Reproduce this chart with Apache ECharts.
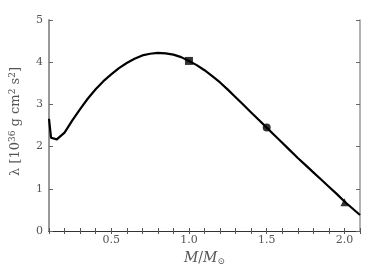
<!DOCTYPE html>
<html><head><meta charset="utf-8">
<script src="https://cdn.jsdelivr.net/npm/echarts@6/dist/echarts.min.js"></script>
<style>html,body{margin:0;padding:0;background:#fff}#c{width:374px;height:280px}</style>
</head><body><div id="c"></div>
<script>
var massX = [0.10,0.113,0.15,0.20,0.25,0.30,0.35,0.40,0.45,0.50,0.55,0.60,0.65,0.70,0.75,0.80,0.85,0.90,0.95,1.00,1.05,1.10,1.15,1.20,1.25,1.30,1.35,1.40,1.45,1.50,1.55,1.60,1.65,1.70,1.75,1.80,1.85,1.90,1.95,2.00,2.05,2.10];
var lambdaY = [2.66,2.21,2.17,2.33,2.62,2.89,3.14,3.36,3.55,3.71,3.86,3.98,4.08,4.16,4.20,4.22,4.21,4.18,4.12,4.03,3.93,3.81,3.67,3.52,3.35,3.17,2.99,2.81,2.63,2.45,2.27,2.09,1.91,1.73,1.56,1.39,1.22,1.05,0.88,0.70,0.54,0.38];
var squarePt = [1.0, 4.03];
var circlePt = [1.5, 2.45];
var trianglePt = [2.0, 0.68];
var xTickLabels = ['0.5','1.0','1.5','2.0'];
var yTickLabels = ['0','1','2','3','4','5'];

var font = "'DejaVu Serif', 'Liberation Serif', serif";
var txt = '#555';
var chart = echarts.init(document.getElementById('c'));
var curve = massX.map(function(x,i){return [x, lambdaY[i]];});
function xLab(v){
  var s = (Math.round(v*10)/10).toFixed(1);
  return xTickLabels.indexOf(s) >= 0 ? s : '';
}
chart.setOption({
  animation:false,
  grid:{left:43,right:14,top:20,bottom:49},
  xAxis:[{
    type:'value',min:0.1,max:2.1,interval:0.1,
    axisLine:{show:true,lineStyle:{color:'#333',width:1}},
    axisTick:{show:true,inside:true,length:3,lineStyle:{color:'#555'}},
    axisLabel:{formatter:xLab,color:txt,fontFamily:font,fontSize:11,margin:4,showMinLabel:true,showMaxLabel:true},
    splitLine:{show:false},
    name:'{i|M}{n|/}{i|M}{s|⊙}',nameLocation:'middle',nameGap:17,
    nameTextStyle:{color:txt,fontFamily:font,fontSize:14,rich:{i:{fontStyle:'italic',fontFamily:font,fontSize:14,color:txt},n:{fontFamily:font,fontSize:14,color:txt},s:{fontFamily:font,fontSize:9,color:txt,verticalAlign:'bottom',padding:[8,0,0,0]}}}
  },{
    type:'value',position:'top',min:0.1,max:2.1,interval:0.1,
    axisLine:{show:true,lineStyle:{color:'#333',width:1}},
    axisTick:{show:true,inside:true,length:3,lineStyle:{color:'#555'}},
    axisLabel:{show:false},splitLine:{show:false}
  }],
  yAxis:[{
    type:'value',min:0,max:5,interval:1,
    axisLine:{show:true,lineStyle:{color:'#999',width:2}},
    axisTick:{show:true,inside:true,length:4,lineStyle:{color:'#666'}},
    axisLabel:{formatter:function(v){return yTickLabels[v];},color:txt,fontFamily:font,fontSize:11,margin:6},
    splitLine:{show:false},
    name:'{n|λ [10}{s|36}{n| g cm}{s|2}{n| s}{s|2}{n|]}',nameLocation:'middle',nameGap:25,nameRotate:90,
    nameTextStyle:{color:txt,fontFamily:font,fontSize:13,padding:[0,0,0,8],rich:{n:{fontFamily:font,fontSize:13,color:txt},s:{fontFamily:font,fontSize:9,color:txt,verticalAlign:'top',padding:[0,0,7,0]}}}
  },{
    type:'value',position:'right',min:0,max:5,interval:1,
    axisLine:{show:true,lineStyle:{color:'#999',width:1.5}},
    axisTick:{show:true,inside:true,length:4,lineStyle:{color:'#666'}},
    axisLabel:{show:false},splitLine:{show:false}
  }],
  series:[{
    type:'line',data:curve,smooth:false,showSymbol:false,
    lineStyle:{color:'#000',width:2.2,join:'round'},z:2
  },{
    type:'scatter',data:[squarePt],symbol:'rect',symbolSize:8,itemStyle:{color:'#000'},z:3
  },{
    type:'scatter',data:[circlePt],symbol:'circle',symbolSize:8,itemStyle:{color:'#000'},z:3
  },{
    type:'scatter',data:[trianglePt],symbol:'triangle',symbolSize:8,itemStyle:{color:'#000'},z:3
  }]
});
</script></body></html>
